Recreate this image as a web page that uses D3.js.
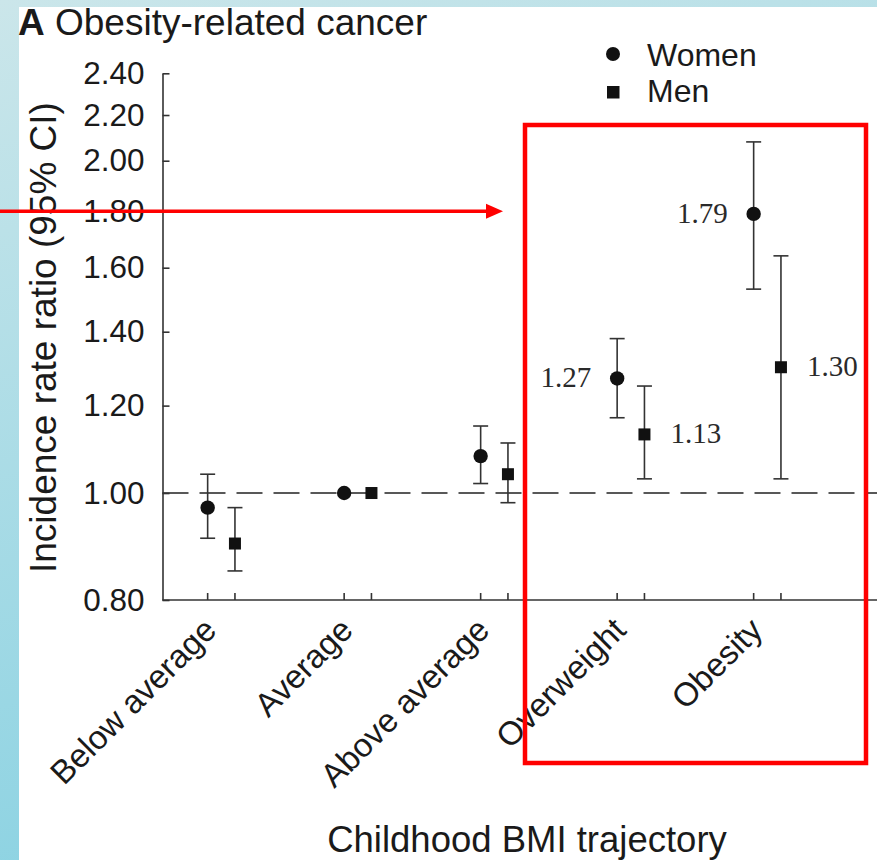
<!DOCTYPE html>
<html>
<head>
<meta charset="utf-8">
<script src="https://cdn.jsdelivr.net/npm/d3@7"></script>
<style>
  body { margin: 0; padding: 0; }
  svg { display: block; }
  .axisText { font-family: "Liberation Sans", Arial, sans-serif; fill: #1a1a1a; }
  .valueText { font-family: "Liberation Serif", "Times New Roman", serif; fill: #2a2a2a; }
</style>
</head>
<body>
<svg width="877" height="860"></svg>
<script>
// childhood BMI trajectory categories
const categories = ["Below average", "Average", "Above average", "Overweight", "Obesity"];

// incidence rate ratios, women
const womenIRR   = [0.97, 1.00, 1.08, 1.27, 1.79];
const womenLower = [0.91, null, 1.02, 1.17, 1.53];
const womenUpper = [1.04, null, 1.15, 1.38, 2.08];

// incidence rate ratios, men
const menIRR   = [0.90, 1.00, 1.04, 1.13, 1.30];
const menLower = [0.85, null, 0.98, 1.03, 1.03];
const menUpper = [0.97, null, 1.11, 1.25, 1.64];

// which points get a printed value
const showValue = [false, false, false, true, true];

const yTicks = [0.80, 1.00, 1.20, 1.40, 1.60, 1.80, 2.00, 2.20, 2.40];

const width = 877, height = 860;
let svg = d3.select("svg");

//background frame
let defs = svg.append("defs");
let grad = defs.append("linearGradient").attr("id", "frameGrad")
    .attr("x1", "0").attr("y1", "0").attr("x2", "0.3").attr("y2", "1");
grad.append("stop").attr("offset", "0%").attr("stop-color", "#cbe6ea");
grad.append("stop").attr("offset", "100%").attr("stop-color", "#8ad2e2");
svg.append("rect").attr("width", width).attr("height", height).attr("fill", "url(#frameGrad)");
svg.append("rect").attr("x", 19).attr("y", 7)
    .attr("width", width - 19).attr("height", height - 7).attr("fill", "#fff");

//scales
let y = d3.scaleLog().domain([0.8, 2.4]).range([600, 73.3]);
let x = d3.scalePoint().domain(categories).range([221.3, 767.3]);
let offset = 13.65;
let plotLeft = 162.5;

//series table
let series = [
    {name: "Women", shape: "circle", dx: -offset, est: womenIRR, lo: womenLower, hi: womenUpper},
    {name: "Men", shape: "square", dx: offset, est: menIRR, lo: menLower, hi: menUpper}
];

//reference line at 1.00
svg.append("line")
    .attr("x1", plotLeft).attr("x2", width)
    .attr("y1", y(1)).attr("y2", y(1))
    .attr("stroke", "#222").attr("stroke-width", 1.6)
    .attr("stroke-dasharray", "26,11");

// y axis
let yAxis = svg.append("g")
    .attr("transform", "translate(" + plotLeft + ",0)")
    .call(d3.axisLeft(y).tickValues(yTicks).tickFormat(d3.format(".2f"))
        .tickSizeInner(-7).tickSizeOuter(0).tickPadding(18));
yAxis.select(".domain").attr("stroke", "#333").attr("stroke-width", 1.6);
yAxis.selectAll(".tick line").attr("stroke", "#333").attr("stroke-width", 1.6);
yAxis.selectAll(".tick text").classed("axisText", true)
    .attr("font-size", 31.5).attr("fill", "#1a1a1a");

// x axis line with ticks under each point
svg.append("line")
    .attr("x1", plotLeft).attr("x2", width)
    .attr("y1", y(0.8)).attr("y2", y(0.8))
    .attr("stroke", "#333").attr("stroke-width", 1.6);
series.forEach((s) => {
    svg.append("g").selectAll("line").data(categories).enter()
        .append("line")
        .attr("x1", (d) => x(d) + s.dx).attr("x2", (d) => x(d) + s.dx)
        .attr("y1", y(0.8)).attr("y2", y(0.8) - 7)
        .attr("stroke", "#333").attr("stroke-width", 1.6);
});

// x category labels
svg.append("g").selectAll("text").data(categories).enter()
    .append("text")
    .classed("axisText", true)
    .attr("font-size", 33)
    .attr("text-anchor", "end")
    .attr("transform", (d) => "translate(" + (x(d) - 3) + ",632) rotate(-45)")
    .text((d) => d);

//error bars and markers
series.forEach((s) => {
    let g = svg.append("g");
    let rows = categories.map((c, i) => ({cat: c, est: s.est[i], lo: s.lo[i], hi: s.hi[i], show: showValue[i]}));
    let withCI = rows.filter((d) => d.lo != null);

    g.selectAll("line.ci").data(withCI).enter()
        .append("line")
        .attr("x1", (d) => x(d.cat) + s.dx).attr("x2", (d) => x(d.cat) + s.dx)
        .attr("y1", (d) => y(d.lo)).attr("y2", (d) => y(d.hi))
        .attr("stroke", "#333").attr("stroke-width", 1.6);
    ["lo", "hi"].forEach((k) => {
        g.selectAll("line.cap" + k).data(withCI).enter()
            .append("line")
            .attr("x1", (d) => x(d.cat) + s.dx - 7.5).attr("x2", (d) => x(d.cat) + s.dx + 7.5)
            .attr("y1", (d) => y(d[k])).attr("y2", (d) => y(d[k]))
            .attr("stroke", "#333").attr("stroke-width", 1.6);
    });

    if (s.shape == "circle") {
        g.selectAll("circle").data(rows).enter()
            .append("circle")
            .attr("cx", (d) => x(d.cat) + s.dx)
            .attr("cy", (d) => y(d.est))
            .attr("r", 7.2)
            .attr("fill", "#111");
    } else {
        g.selectAll("rect").data(rows).enter()
            .append("rect")
            .attr("x", (d) => x(d.cat) + s.dx - 6)
            .attr("y", (d) => y(d.est) - 6)
            .attr("width", 12).attr("height", 12)
            .attr("fill", "#111");
    }

    // printed values: women to the left, men to the right
    g.selectAll("text").data(rows.filter((d) => d.show)).enter()
        .append("text")
        .classed("valueText", true)
        .attr("font-size", 29)
        .attr("text-anchor", s.shape == "circle" ? "end" : "start")
        .attr("x", (d) => x(d.cat) + s.dx + (s.shape == "circle" ? -26 : 26))
        .attr("y", (d) => y(d.est) + 9)
        .text((d) => d.est.toFixed(2));
});

//axis titles
svg.append("text")
    .classed("axisText", true)
    .attr("font-size", 37)
    .attr("transform", "translate(56,573) rotate(-90)")
    .text("Incidence rate ratio (95% CI)");

svg.append("text")
    .classed("axisText", true)
    .attr("font-size", 36.5)
    .attr("text-anchor", "middle")
    .attr("x", 527).attr("y", 852)
    .text("Childhood BMI trajectory");

//panel title
let title = svg.append("text")
    .classed("axisText", true)
    .attr("font-size", 37)
    .attr("x", 18).attr("y", 35);
title.append("tspan").attr("font-weight", "bold").text("A");
title.append("tspan").text(" Obesity-related cancer");

//legend
let legend = svg.append("g");
legend.append("circle").attr("cx", 613).attr("cy", 54).attr("r", 7).attr("fill", "#111");
legend.append("rect").attr("x", 607).attr("y", 86).attr("width", 12.5).attr("height", 12.5).attr("fill", "#111");
legend.selectAll("text").data(series).enter()
    .append("text")
    .classed("axisText", true)
    .attr("font-size", 32)
    .attr("x", 647)
    .attr("y", (d, i) => 66 + i * 36)
    .text((d) => d.name);

//red highlight box and arrow
svg.append("rect")
    .attr("x", 525).attr("y", 125)
    .attr("width", 341).attr("height", 638)
    .attr("fill", "none").attr("stroke", "#ff0000").attr("stroke-width", 4.5);

svg.append("line")
    .attr("x1", 0).attr("x2", 488)
    .attr("y1", y(1.8)).attr("y2", y(1.8))
    .attr("stroke", "#ff0000").attr("stroke-width", 3.5);
svg.append("path")
    .attr("d", "M486," + (y(1.8) - 7.5) + "L503," + y(1.8) + "L486," + (y(1.8) + 7.5) + "Z")
    .attr("fill", "#ff0000");
</script>
</body>
</html>
